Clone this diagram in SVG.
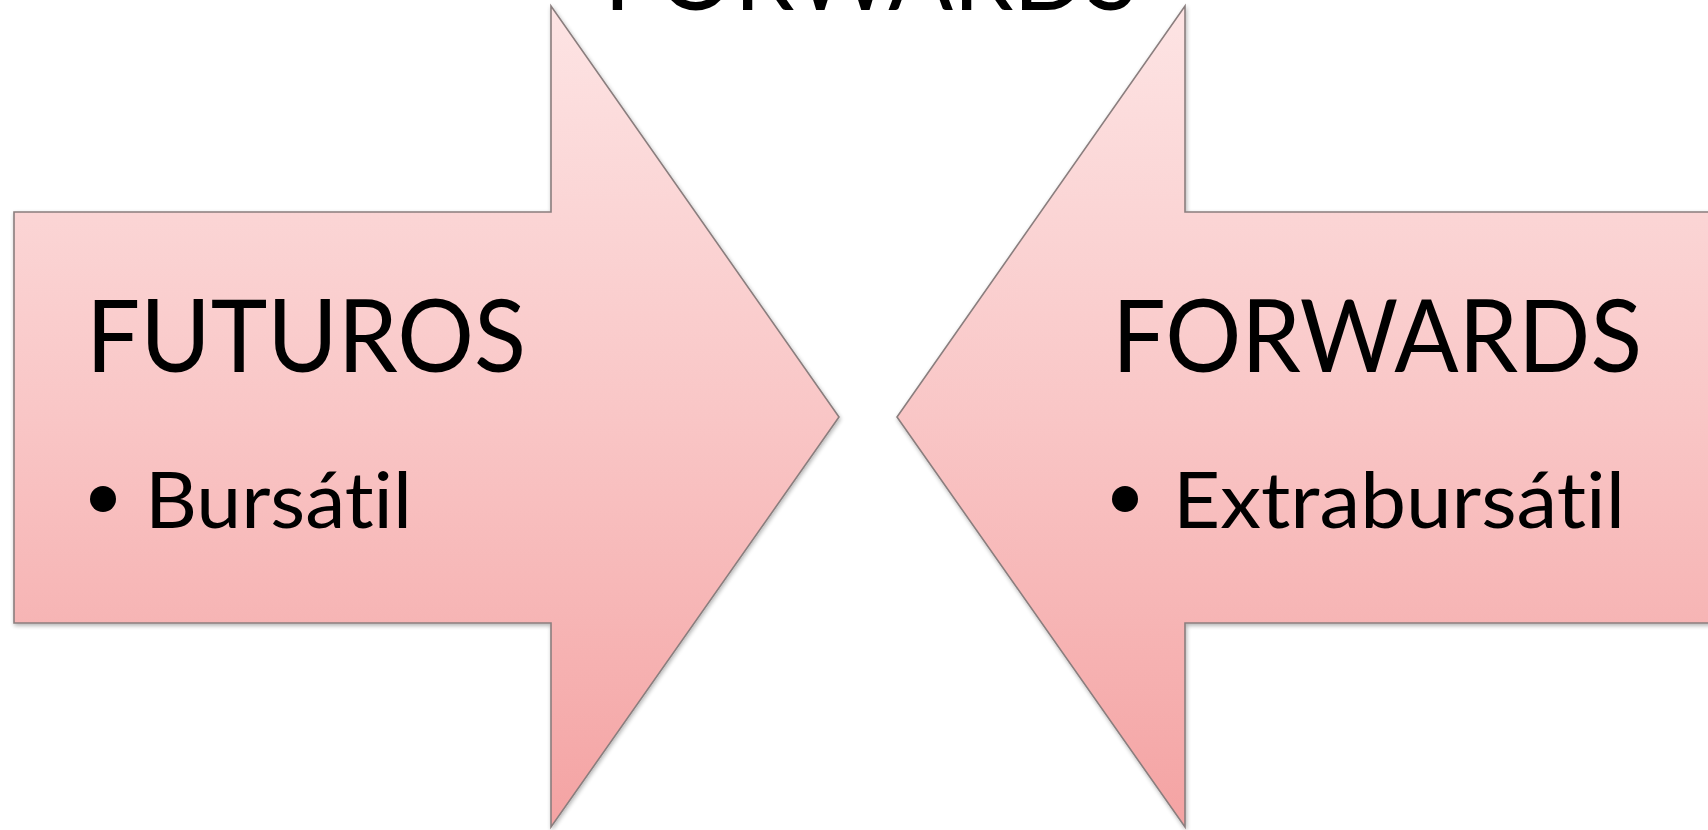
<svg xmlns="http://www.w3.org/2000/svg" width="1708" height="830" viewBox="0 0 1708 830">
<style>
.arrow{fill:url(#g);stroke:#8a7e7e;stroke-width:1.6;stroke-linejoin:miter;filter:url(#sh)}
.t{font-family:Lato,"Open Sans","Liberation Sans",sans-serif;fill:#000;font-variant-ligatures:none;font-feature-settings:"liga" 0,"clig" 0}
.h{font-size:100px}
.b{font-size:78px}
</style>
<defs>
<linearGradient id="g" gradientUnits="userSpaceOnUse" x1="0" y1="6" x2="0" y2="827">
<stop offset="0" stop-color="#fde4e4"/>
<stop offset="0.5" stop-color="#f9c6c6"/>
<stop offset="1" stop-color="#f4a3a3"/>
</linearGradient>
<filter id="sh" x="-5%" y="-5%" width="110%" height="110%">
<feGaussianBlur in="SourceAlpha" stdDeviation="2"/>
<feOffset dx="1" dy="2" result="o"/>
<feComponentTransfer><feFuncA type="linear" slope="0.3"/></feComponentTransfer>
<feMerge><feMergeNode/><feMergeNode in="SourceGraphic"/></feMerge>
</filter>
</defs>
<rect width="1708" height="830" fill="#fff"/>
<g id="title">
<text class="t h" x="604" y="10" textLength="534" lengthAdjust="spacingAndGlyphs">FORWARDS</text>
</g>
<g id="futuros">
<polygon class="arrow" points="14,212 551,212 551,6 839,417 551,827 551,623 14,623"/>
<text class="t h" x="86" y="372" textLength="440" lengthAdjust="spacingAndGlyphs">FUTUROS</text>
<circle cx="103" cy="499" r="13"/>
<text class="t b" x="145" y="528" textLength="267" lengthAdjust="spacingAndGlyphs">Bursátil</text>
</g>
<g id="forwards">
<polygon class="arrow" points="1725,212 1185,212 1185,6 897,417 1185,827 1185,623 1725,623"/>
<text class="t h" x="1112" y="372" textLength="530" lengthAdjust="spacingAndGlyphs">FORWARDS</text>
<circle cx="1125" cy="499" r="13"/>
<text class="t b" x="1173" y="528" textLength="452" lengthAdjust="spacingAndGlyphs">Extrabursátil</text>
</g>
<g id="connectors"/>
</svg>
